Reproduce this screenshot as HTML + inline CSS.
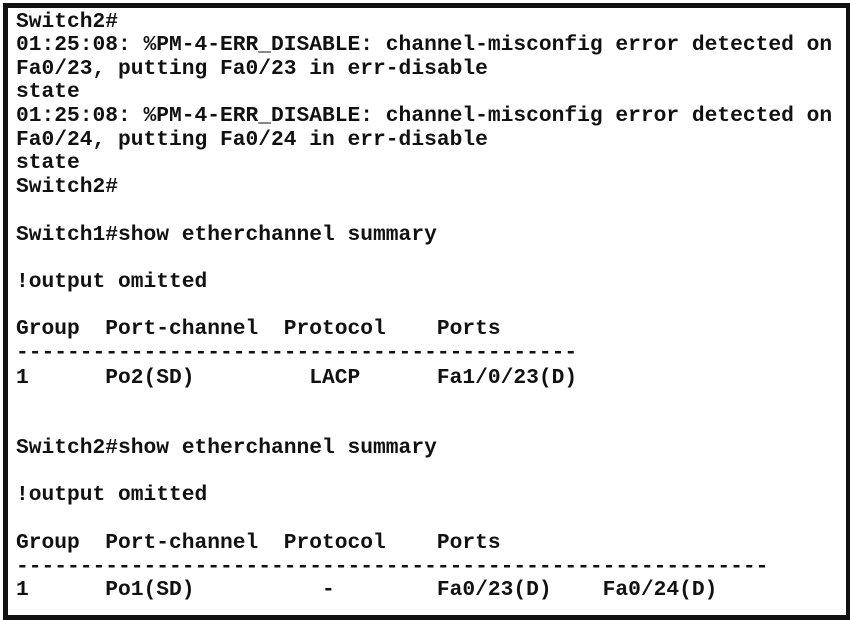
<!DOCTYPE html>
<html><head><meta charset="utf-8"><style>
html,body{margin:0;padding:0;background:#fff;}
#f{position:absolute;left:3px;top:3px;width:838px;height:607px;border:5px solid #111;background:#fff;}
.l{position:absolute;left:16px;white-space:pre;font-family:"Liberation Mono",monospace;font-weight:bold;font-size:21.25px;line-height:24px;height:24px;color:#111;}
</style></head><body>
<div id="f"></div>
<div class="l" style="top:10px">Switch2#</div>
<div class="l" style="top:33px">01:25:08: %PM-4-ERR_DISABLE: channel-misconfig error detected on</div>
<div class="l" style="top:57px">Fa0/23, putting Fa0/23 in err-disable</div>
<div class="l" style="top:80px">state</div>
<div class="l" style="top:104px">01:25:08: %PM-4-ERR_DISABLE: channel-misconfig error detected on</div>
<div class="l" style="top:128px">Fa0/24, putting Fa0/24 in err-disable</div>
<div class="l" style="top:151px">state</div>
<div class="l" style="top:175px">Switch2#</div>
<div class="l" style="top:223px">Switch1#show etherchannel summary</div>
<div class="l" style="top:270px">!output omitted</div>
<div class="l" style="top:317px">Group  Port-channel  Protocol    Ports</div>
<div class="l" style="top:341px">--------------------------------------------</div>
<div class="l" style="top:366px">1      Po2(SD)         LACP      Fa1/0/23(D)</div>
<div class="l" style="top:436px">Switch2#show etherchannel summary</div>
<div class="l" style="top:483px">!output omitted</div>
<div class="l" style="top:531px">Group  Port-channel  Protocol    Ports</div>
<div class="l" style="top:555px">-----------------------------------------------------------</div>
<div class="l" style="top:578px">1      Po1(SD)          -        Fa0/23(D)    Fa0/24(D)</div>
</body></html>
